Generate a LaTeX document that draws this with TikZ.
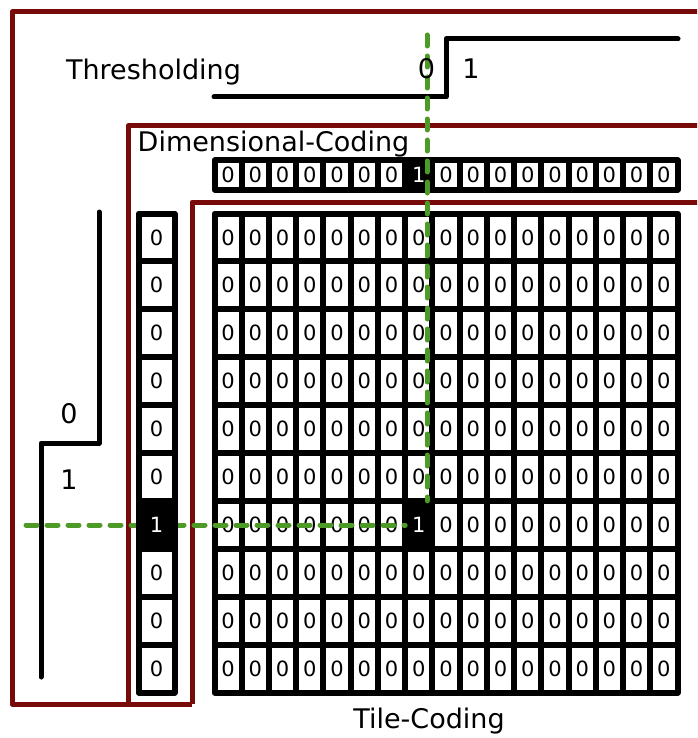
\documentclass[tikz,border=0pt]{standalone}
\usepackage{fontspec}
\setmainfont{DejaVu Sans}
\usetikzlibrary{positioning}
\definecolor{myred}{HTML}{780A0A}
\definecolor{mygreen}{HTML}{4E9A26}

\begin{document}
\begin{tikzpicture}[
    x=1pt, y=-1pt,
    % Estilos de las celdas
    cell/.style={
        rectangle,
        draw=black,
        fill=white,
        line width=6pt,
        line join=round,
        inner sep=0pt,
        outer sep=0pt,
        minimum width=27.235pt,
        minimum height=47.9pt,
        font=\fontsize{21}{21}\selectfont
    },
    hcell/.style={cell, minimum height=29pt},
    vcell/.style={cell, minimum width=36pt},
    hot/.style={fill=black, text=white},
    % Estilos de textos y lineas
    title/.style={font=\fontsize{27}{27}\selectfont, inner sep=0pt, anchor=base},
    region/.style={draw=myred, line width=5pt, line join=round},
    stepline/.style={draw=black, line width=5pt, line join=round, line cap=round},
    probe/.style={draw=mygreen, line width=5pt, line cap=round, dash pattern=on 11pt off 10pt}
]
\useasboundingbox (0,0) rectangle (697,738);
\clip (0,0) rectangle (697,738);

% -- Regiones --
\draw[region] (192,704) -- (12,704) -- (12,12) -- (730,12);
\draw[region] (128,704) -- (128,126) -- (730,126);
\draw[region] (192,704) -- (192,202) -- (730,202);

% -- Umbrales --
\draw[stepline] (214,97) -- (446,97) -- (446,39) -- (678,39);
\draw[stepline] (99,212) -- (99,443) -- (41,443) -- (41,677);

% -- Tile-Coding --
\foreach \r in {0,...,9}
  \foreach \c in {0,...,16}{
    \ifnum\numexpr\r*17+\c\relax=109
      \node[cell, hot] (tile-\r-\c) at ({214.5+(\c+0.5)*27.235},{213.5+(\r+0.5)*47.9}) {1};
    \else
      \node[cell] (tile-\r-\c) at ({214.5+(\c+0.5)*27.235},{213.5+(\r+0.5)*47.9}) {0};
    \fi
  }

% -- Dimensional-Coding (fila) --
\foreach \c in {0,...,16}{
  \ifnum\c=7
    \node[hcell, hot] (dim-h-\c) at ({214.5+(\c+0.5)*27.235},175) {1};
  \else
    \node[hcell] (dim-h-\c) at ({214.5+(\c+0.5)*27.235},175) {0};
  \fi
}

% -- Lineas de prueba --
\coordinate (probe-v) at (427,35);
\coordinate (probe-h) at (26,525);
\draw[probe] (probe-v) -- (probe-v |- tile-6-7.north);
\draw[probe] (probe-h) -- (probe-h -| tile-6-7.west);

% -- Dimensional-Coding (columna) --
\foreach \r in {0,...,9}{
  \ifnum\r=6
    \node[vcell, hot] (dim-v-\r) at (156.5,{213.5+(\r+0.5)*47.9}) {1};
  \else
    \node[vcell] (dim-v-\r) at (156.5,{213.5+(\r+0.5)*47.9}) {0};
  \fi
}

% -- Textos --
\node[title] (thr) at (153.5,80) {Thresholding};
\node[title] (dim) at (273.5,152) {Dimensional-Coding};
\node[title] (tile) at (429,728) {Tile-Coding};
\node[title] (th-0) at (426.5,79) {0};
\node[title] (th-1) at (471,79) {1};
\node[title] (tv-0) at (69,423) {0};
\node[title] (tv-1) at (69,489) {1};

\end{tikzpicture}
\end{document}
